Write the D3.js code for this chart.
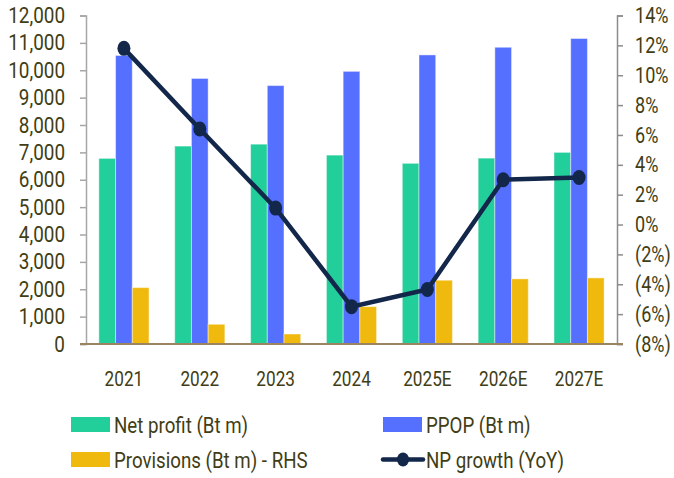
<!DOCTYPE html>
<html>
<head>
<meta charset="utf-8">
<script src="https://cdn.jsdelivr.net/npm/d3@7"></script>
<style>
  body { margin: 0; background: #fff; }
  svg text { font-family: Roboto, "Noto Sans", sans-serif; fill: #413d14; }
</style>
</head>
<body>
<div id="chart"></div>
<script>
// chart data
const years = ['2021', '2022', '2023', '2024', '2025E', '2026E', '2027E'];
const netProfit = [6780, 7230, 7300, 6900, 6600, 6790, 7000];
const ppop = [10540, 9700, 9440, 9960, 10560, 10840, 11160];
const provisions = [2060, 720, 365, 1365, 2330, 2380, 2415];
const npGrowth = [11.8, 6.4, 1.1, -5.5, -4.35, 3.0, 3.15];
const leftTicks = [0, 1000, 2000, 3000, 4000, 5000, 6000, 7000, 8000, 9000, 10000, 11000, 12000];
const rightTicks = [-8, -6, -4, -2, 0, 2, 4, 6, 8, 10, 12, 14];

const colors = { net: '#22ce9a', ppop: '#556fff', prov: '#f0b90e', line: '#13274a' };

const W = 674, H = 478;
const plot = { left: 86, right: 617, top: 15.5, bottom: 344 };
// the source font is narrower than Roboto, squeeze text horizontally
const sqTick = 0.86, sqRight = 0.82, sqLegend = 0.85;

const svg = d3.select('#chart').append('svg')
    .attr('width', W)
    .attr('height', H);

const x = d3.scaleBand()
    .domain(years)
    .range([plot.left, plot.right])
    .padding(0);

const series = [
    { key: 'net', values: netProfit },
    { key: 'ppop', values: ppop },
    { key: 'prov', values: provisions }
];

const xSub = d3.scaleBand()
    .domain(series.map(s => s.key))
    .range([0, x.bandwidth()])
    .paddingInner(0)
    .paddingOuter(0.77);

const yL = d3.scaleLinear().domain([0, 12000]).range([plot.bottom, plot.top]);
const yR = d3.scaleLinear().domain([-8, 14]).range([plot.bottom, plot.top]);

// bars
series.forEach(s => {
    svg.append('g').selectAll('rect')
        .data(s.values)
        .enter()
        .append('rect')
        .attr('x', (d, i) => x(years[i]) + xSub(s.key))
        .attr('y', d => yL(d))
        .attr('width', xSub.bandwidth())
        .attr('height', d => yL(0) - yL(d))
        .attr('fill', colors[s.key])
        .attr('stroke', 'rgba(255,255,255,0.45)')
        .attr('stroke-width', 1);
});

// left axis
const leftAxis = svg.append('g')
    .attr('transform', `translate(${plot.left},0)`)
    .call(d3.axisLeft(yL).tickValues(leftTicks).tickSize(6).tickFormat(d3.format(',')));
leftAxis.select('.domain').attr('stroke', '#a6a6a6').attr('stroke-width', 1.5);
leftAxis.selectAll('.tick line').attr('stroke', '#a6a6a6').attr('stroke-width', 1.5);
leftAxis.selectAll('text')
    .attr('x', -21 / sqTick)
    .attr('transform', `scale(${sqTick},1)`)
    .style('font-size', '22px')
    .style('fill', '#413d14');

// right axis
const rightAxis = svg.append('g')
    .attr('transform', `translate(${plot.right},0)`)
    .call(d3.axisRight(yR).tickValues(rightTicks).tickSize(6)
        .tickFormat(d => d < 0 ? `(${Math.abs(d)}%)` : `${d}%`));
rightAxis.select('.domain').attr('stroke', '#8c8c8c').attr('stroke-width', 1.5);
rightAxis.selectAll('.tick line').attr('stroke', '#8c8c8c').attr('stroke-width', 1.5);
rightAxis.selectAll('text')
    .attr('x', 18 / sqRight)
    .attr('transform', `scale(${sqRight},1)`)
    .style('font-size', '22px')
    .style('fill', '#413d14');

// baseline
svg.append('line')
    .attr('x1', plot.left - 6)
    .attr('x2', plot.right + 6)
    .attr('y1', yL(0))
    .attr('y2', yL(0))
    .attr('stroke', '#9c8463')
    .attr('stroke-width', 2);

// x labels
svg.append('g').selectAll('text')
    .data(years)
    .enter()
    .append('text')
    .attr('transform', d => `translate(${x(d) + x.bandwidth() / 2},386) scale(${sqTick},1)`)
    .attr('text-anchor', 'middle')
    .style('font-size', '20px')
    .text(d => d);

// NP growth line
const line = d3.line()
    .x((d, i) => x(years[i]) + x.bandwidth() / 2)
    .y(d => yR(d));

svg.append('path')
    .datum(npGrowth)
    .attr('d', line)
    .attr('fill', 'none')
    .attr('stroke', colors.line)
    .attr('stroke-width', 4.5);

svg.append('g').selectAll('ellipse')
    .data(npGrowth)
    .enter()
    .append('ellipse')
    .attr('cx', (d, i) => x(years[i]) + x.bandwidth() / 2)
    .attr('cy', d => yR(d))
    .attr('rx', 6.5)
    .attr('ry', 7.5)
    .attr('fill', colors.line);

// legend
const legendItems = [
    { label: 'Net profit (Bt m)', type: 'rect', color: colors.net, x: 71, y: 424.5 },
    { label: 'PPOP (Bt m)', type: 'rect', color: colors.ppop, x: 383, y: 424.5 },
    { label: 'Provisions (Bt m) - RHS', type: 'rect', color: colors.prov, x: 71, y: 459.5 },
    { label: 'NP growth (YoY)', type: 'line', color: colors.line, x: 383, y: 459.5 }
];

const legend = svg.append('g');
legendItems.forEach(item => {
    const g = legend.append('g').attr('transform', `translate(${item.x},${item.y})`);
    if (item.type === 'rect') {
        g.append('rect')
            .attr('x', 0)
            .attr('y', -7.5)
            .attr('width', 39)
            .attr('height', 15)
            .attr('fill', item.color);
    } else {
        g.append('line')
            .attr('x1', 0).attr('x2', 40)
            .attr('y1', 0).attr('y2', 0)
            .attr('stroke', item.color)
            .attr('stroke-width', 4.5)
            .attr('stroke-linecap', 'round');
        g.append('ellipse')
            .attr('cx', 20).attr('cy', 0)
            .attr('rx', 6).attr('ry', 7)
            .attr('fill', item.color);
    }
    g.append('text')
        .attr('transform', `translate(43,8) scale(${sqLegend},1)`)
        .style('font-size', '22px')
        .text(item.label);
});
</script>
</body>
</html>
